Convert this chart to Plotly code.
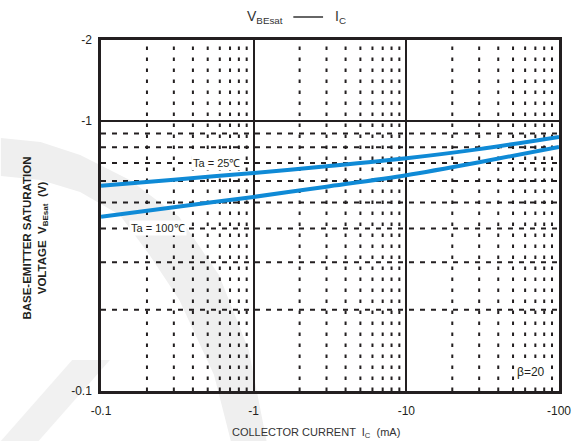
import math
import plotly.graph_objects as go

# Collector current magnitude (mA) and base-emitter saturation voltage magnitude (V)
ic_ma = [0.1, 0.3, 1, 3, 10, 30, 100]
vbe_25c = [0.576, 0.607, 0.643, 0.681, 0.729, 0.788, 0.875]
vbe_100c = [0.442, 0.480, 0.524, 0.572, 0.631, 0.705, 0.803]

x_ticks = [0.1, 1, 10, 100]
x_tick_labels = ["-0.1", "-1", "-10", "-100"]
y_ticks = [0.1, 1, 2]
y_tick_labels = ["-0.1", "-1", "-2"]

x_minor = [0.2, 0.3, 0.4, 0.5, 0.6, 0.7, 0.8, 0.9,
           2, 3, 4, 5, 6, 7, 8, 9,
           20, 30, 40, 50, 60, 70, 80, 90]
y_minor = [0.2, 0.3, 0.4, 0.5, 0.6, 0.7, 0.8, 0.9]

INK = "#231f20"
BLUE = "#0f8ad6"
FONT = "Arial, Liberation Sans, sans-serif"

W, H = 583, 441
L, R, T, B = 101, 20, 40, 50


def px(x):
    return (x - L) / (W - L - R)


def py(y):
    return (H - B - y) / (H - T - B)


fig = go.Figure()

# dashed minor grid: horizontal
hx, hy = [], []
for v in y_minor:
    hx += [0.1, 100, None]
    hy += [v, v, None]
fig.add_trace(go.Scatter(x=hx, y=hy, mode="lines", hoverinfo="skip",
                         line=dict(color=INK, width=2, dash="5px,6px")))

# dashed minor grid: vertical
vx, vy = [], []
for v in x_minor:
    vx += [v, v, None]
    vy += [0.1, 2, None]
fig.add_trace(go.Scatter(x=vx, y=vy, mode="lines", hoverinfo="skip",
                         line=dict(color=INK, width=2, dash="3.5px,7.5px")))

# characteristic curves
for vals in (vbe_25c, vbe_100c):
    fig.add_trace(go.Scatter(x=ic_ma, y=vals, mode="lines",
                             line=dict(color=BLUE, width=4, shape="spline", smoothing=0.8)))


def ann(text, x, y, size=11, **kw):
    fig.add_annotation(text=text, x=math.log10(x), y=math.log10(y), xref="x", yref="y",
                       showarrow=False, font=dict(family=FONT, size=size, color=INK),
                       bgcolor="white", borderpad=1, **kw)


ann("Ta = 25℃", 0.57, 0.699)
ann("Ta = 100℃", 0.236, 0.402)
ann("β=20", 66, 0.1175, size=12)

# faint background swoosh
upper = [(0, 138), (40, 142), (80, 155), (130, 180), (180, 217), (220, 275), (250, 350), (268, 441)]
lower = [(232, 441), (215, 375), (180, 300), (150, 255), (120, 215), (80, 192), (40, 180), (0, 176)]
pts = upper + lower
path = "M " + " L ".join(f"{px(a):.4f},{py(b):.4f}" for a, b in pts) + " Z"
fig.add_shape(type="path", path=path, xref="paper", yref="paper", layer="below",
              fillcolor="#efefef", line=dict(width=0))
band = [(0, 441), (38, 441), (110, 360), (72, 360)]
path2 = "M " + " L ".join(f"{px(a):.4f},{py(b):.4f}" for a, b in band) + " Z"
fig.add_shape(type="path", path=path2, xref="paper", yref="paper", layer="below",
              fillcolor="#f1f1f1", line=dict(width=0))

# heading: V_BEsat ——— I_C
fig.add_annotation(text="V<sub>BEsat</sub>", xref="paper", yref="paper",
                   x=px(287), y=py(17), xanchor="right", yanchor="middle",
                   showarrow=False, font=dict(family=FONT, size=14, color="#333333"))
fig.add_shape(type="line", xref="paper", yref="paper",
              x0=px(295), x1=px(325), y0=py(17), y1=py(17),
              line=dict(color="#333333", width=1.5))
fig.add_annotation(text="I<sub>C</sub>", xref="paper", yref="paper",
                   x=px(335), y=py(17), xanchor="left", yanchor="middle",
                   showarrow=False, font=dict(family=FONT, size=14, color="#333333"))

# axis titles
fig.add_annotation(text="COLLECTOR CURRENT  I<sub>C</sub>  (mA)", xref="paper", yref="paper",
                   x=px(318), y=py(433), xanchor="center", yanchor="middle",
                   showarrow=False, font=dict(family=FONT, size=11, color="#333333"))
fig.add_annotation(text="<b>BASE-EMITTER SATURATION<br>VOLTAGE  V<sub>BEsat</sub>  (V)</b>",
                   xref="paper", yref="paper", textangle=-90,
                   x=px(34), y=py(238), xanchor="center", yanchor="middle",
                   showarrow=False, font=dict(family=FONT, size=11.5, color=INK))

axis_common = dict(type="log", showgrid=True, gridcolor=INK, gridwidth=2,
                   showline=True, mirror=True, linecolor=INK, linewidth=2.5,
                   zeroline=False, ticks="", tickfont=dict(family=FONT, size=12, color=INK))

fig.update_xaxes(range=[-1, 2], tickvals=x_ticks, ticktext=x_tick_labels,
                 ticklabelstandoff=7, **axis_common)
fig.update_yaxes(range=[-1, math.log10(2)], tickvals=y_ticks, ticktext=y_tick_labels,
                 ticklabelstandoff=4, **axis_common)

fig.update_layout(width=W, height=H, showlegend=False,
                  margin=dict(l=L, r=R, t=T, b=B),
                  plot_bgcolor="rgba(0,0,0,0)", paper_bgcolor="white",
                  font=dict(family=FONT, color=INK))

fig.write_html("out.html")
